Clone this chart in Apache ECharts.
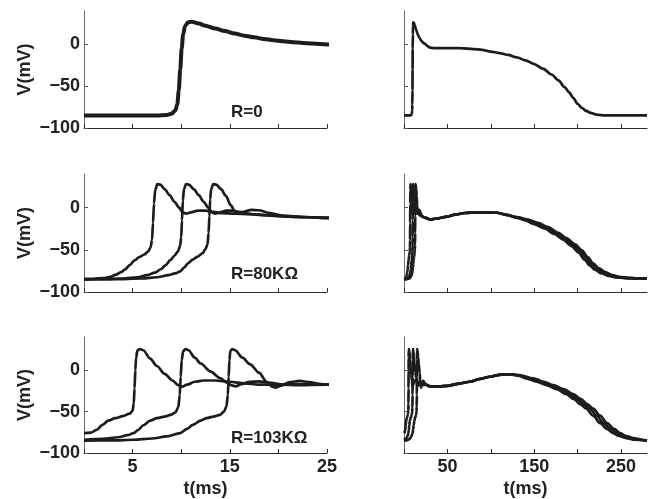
<!DOCTYPE html>
<html>
<head>
<meta charset="utf-8">
<script src="https://cdn.jsdelivr.net/npm/echarts@6/dist/echarts.min.js"></script>
<style>
html,body{margin:0;padding:0;background:#fff}
#c{width:659px;height:499px}
</style>
</head>
<body>
<div id="c"></div>
<script>
// Membrane potential traces [t (ms), V (mV)], one array per trace.
// Each trace covers the whole action potential (0-280 ms); the left
// column shows the first 25 ms, the right column the full duration.

// R = 0
const r0 = [
  [0,-85],[7.5,-85],[8.5,-84.5],[9.0,-83],[9.4,-79],[9.6,-72],[9.75,-55],[9.9,-30],[10.05,-5],
  [10.2,12],[10.4,22],[10.7,26.5],[11.1,27],[11.8,25],[12.5,22.5],[13.5,19],[14.5,16],[15.5,13],
  [16.5,10.5],[17.5,8.5],[18.5,6.6],[19.5,5],[20.5,3.8],[21.5,2.7],[22.5,1.8],[23.5,1],[25,0],
  [27,-2],[30,-3.8],[35,-4.4],[50,-4.4],[65,-4.5],[80,-5.5],[90,-6.5],[100,-8.5],[110,-10.3],
  [120,-12.5],[130,-15.5],[140,-19],[150,-23.5],[160,-29],[170,-36],[178,-43],[185,-51],[190,-57],
  [195,-64],[200,-71],[205,-76],[210,-79.5],[215,-82],[222,-84],[232,-85],[280,-85]
];

// R = 80 kOhm, three stimulus timings
const r80a = [
  [0,-84.5],[1,-84.3],[2,-83.5],[2.7,-82],[3.3,-79.5],[3.8,-76.5],[4.2,-73.5],[4.7,-68],[5.2,-62.5],
  [5.7,-58.5],[6.2,-55.5],[6.6,-52],[6.85,-47],[7.0,-38],[7.1,-18],[7.2,5],[7.32,21],[7.55,28],
  [7.85,27.5],[8.3,22],[8.8,15],[9.3,7],[9.8,0],[10.15,-5.5],[10.5,-7],[11,-5.5],[11.7,-3.5],
  [12.5,-3.5],[13.3,-5],[14.2,-6.5],[15.5,-7],[17,-7.5],[19,-9],[21,-10.5],[23,-11.3],[25,-12],
  [30,-14],[38,-12.8],[50,-10.5],[60,-8],[70,-6.3],[84,-5.5],[95,-5.5],[107,-6],[118,-8.5],
  [130,-12],[140,-15],[150,-19.5],[162,-24.5],[173,-31],[183,-37.5],[193,-45.5],[201,-53],
  [208,-61.5],[214,-68.5],[220,-73.5],[228,-78],[236,-81],[244,-82.6],[254,-83.5],[266,-84],[280,-84]
];
const r80b = [
  [0,-85],[2,-84.8],[4,-84],[5.5,-82.5],[6.5,-80],[7.3,-77],[7.9,-73],[8.4,-68],[8.9,-62],
  [9.3,-57],[9.65,-52],[9.9,-45],[10.0,-35],[10.08,-15],[10.17,8],[10.28,22],[10.5,28],[10.8,27.5],
  [11.3,22],[11.8,15],[12.3,7],[12.8,0],[13.15,-5.5],[13.5,-7],[14,-5.5],[14.6,-3.5],[15.3,-3.5],
  [16,-5],[16.8,-7],[18,-8.5],[20,-10],[22.5,-11],[25,-12],
  [30,-14],[38,-12.8],[50,-10.5],[60,-8],[70,-6.3],[84,-5.5],[95,-5.5],[107,-6],[118,-8.5],
  [130,-11.5],[141,-14.5],[152,-18.6],[164,-23.5],[175,-30],[185,-36.5],[195,-44],[203,-51.5],
  [210,-60],[216,-67],[222,-72.5],[230,-77],[238,-80.3],[246,-82.2],[256,-83.3],[268,-84],[280,-84]
];
const r80c = [
  [0,-85],[3,-84.8],[6,-84],[7.5,-82.5],[8.7,-80],[9.5,-77.5],[9.9,-75.5],[10.3,-71],[10.7,-66],
  [11.2,-61.5],[11.7,-58],[12.2,-54],[12.45,-50],[12.7,-44],[12.82,-30],[12.9,-10],[12.98,10],
  [13.08,22],[13.3,28],[13.6,27.5],[14.1,22],[14.6,14],[15.1,3],[15.5,-4],[15.9,-6.5],[16.4,-5],
  [17.2,-2.5],[18,-3],[19,-6],[20.5,-9.5],[22.5,-11],[25,-12],
  [30,-14],[38,-12.8],[50,-10.5],[60,-8],[70,-6.3],[84,-5.5],[95,-5.5],[107,-6],[118,-8.5],
  [130,-11],[143,-14.2],[154,-18],[166,-23],[177,-29.5],[187,-36],[197,-43.5],[205,-50.5],
  [212,-59],[218,-66],[224,-71.5],[232,-76.5],[240,-80],[248,-82],[258,-83.2],[270,-84],[280,-84]
];

// R = 103 kOhm, three stimulus timings
const r103a = [
  [0,-76],[0.7,-75.5],[1.3,-72],[1.9,-66],[2.5,-61],[3.2,-58],[4,-55.5],[4.7,-52.5],[5.0,-49],
  [5.12,-40],[5.2,-22],[5.28,0],[5.36,15],[5.5,24],[5.75,25.5],[6.1,24],[6.8,14],[7.5,5],
  [8.3,-4.5],[9.1,-12.5],[9.7,-18],[10.1,-20],[10.6,-17.5],[11.4,-14],[12.3,-12.5],[13.5,-12.5],
  [15,-14],[16.5,-16],[18,-17.5],[20,-17.5],[22,-16.8],[25,-17.5],
  [30,-19.5],[40,-19.5],[50,-19],[62,-16.5],[76,-14],[88,-10.5],[99,-8],[108,-6],[116,-5],
  [125,-5.3],[133,-7],[141,-10],[153,-14],[164,-18],[176,-23],[187,-29],[196,-35],[203,-41],
  [210,-46.5],[218,-55],[226,-64],[234,-71],[241,-76],[248,-79.5],[256,-82],[266,-84],[280,-85]
];
const r103b = [
  [0,-84],[2,-83],[3.5,-81],[4.5,-78.5],[5.1,-76],[5.6,-72],[6.1,-66.5],[6.8,-61],[7.5,-58],
  [8.3,-56],[8.9,-54],[9.4,-51],[9.7,-45],[9.85,-30],[9.95,-8],[10.05,12],[10.2,23],[10.45,25.5],
  [10.75,24],[11.4,15],[12,8],[13,-1.5],[14,-9.5],[14.7,-15],[15.2,-18.5],[15.6,-19.5],[16.2,-17],
  [17,-14],[18,-13.5],[19,-15],[20.5,-17.5],[22,-18],[25,-17.5],
  [30,-19.5],[40,-19.5],[50,-19],[62,-16.5],[76,-14],[88,-10.5],[99,-8],[108,-6],[116,-5],
  [125,-5.3],[133,-6.5],[145,-10],[157,-14],[168,-18],[180,-23],[191,-29],[200,-35],[207,-41],
  [214,-46.5],[222,-55],[230,-64],[238,-71],[245,-76],[252,-79.5],[260,-82],[270,-84],[280,-85]
];
const r103c = [
  [0,-85],[3,-84.8],[5.1,-84],[7,-82.5],[8.5,-80],[9.9,-76],[10.6,-71],[11.2,-66],[12,-61],
  [12.6,-58],[13.3,-56],[14,-54],[14.4,-50],[14.65,-44],[14.8,-30],[14.88,-8],[14.96,12],
  [15.05,23],[15.25,25.5],[15.55,24],[16.3,15],[17.1,7],[18,-3],[18.8,-14],[19.3,-19.5],
  [19.7,-21],[20.2,-19],[21.2,-14.5],[22.2,-13],[23.2,-14.5],[24.2,-16.5],[25,-17.5],
  [30,-19.5],[40,-19.5],[50,-19],[62,-16.5],[76,-14],[88,-10.5],[99,-8],[108,-6],[116,-5],
  [125,-5.3],[133,-6],[149,-10],[161,-14],[172,-18],[184,-23],[195,-29],[204,-35],[211,-41],
  [218,-46.5],[226,-55],[234,-64],[242,-71],[249,-76],[256,-79.5],[264,-82],[274,-84],[280,-85]
];

// Axis ticks and labels
const shortTicks = [0, 5, 10, 15, 20, 25];
const shortLabels = [5, 15, 25];
const longTicks = [0, 50, 100, 150, 200, 250];
const longLabels = [50, 150, 250];
const vTicks = [-100, -50, 0];
const rowLabels = ['R=0', 'R=80K\u03A9', 'R=103K\u03A9'];

const FONT = '"Liberation Sans", Arial, Helvetica, sans-serif';
const INK = '#1c1c1c';
const TEXT = { fontFamily: FONT, fontSize: 18, fontWeight: 'bold', color: '#222' };

const rowTops = [11, 174, 337];
const rowHeights = [117, 118, 118];
const colLefts = [84, 404];
const rows = [[r0], [r80a, r80b, r80c], [r103a, r103b, r103c]];

const grid = [], xAxis = [], yAxis = [], series = [];
rows.forEach((traces, r) => {
  colLefts.forEach((left, c) => {
    const gi = grid.length;
    const bottomRow = r === 2;
    grid.push({ left: left, top: rowTops[r], width: 243, height: rowHeights[r] });
    xAxis.push({
      gridIndex: gi, type: 'value', min: 0, max: c === 0 ? 25 : 280,
      axisLine: { show: true, onZero: false, lineStyle: { color: '#2a2a2a', width: 1 } },
      axisTick: { show: true, inside: true, length: 4, customValues: c === 0 ? shortTicks : longTicks,
                  lineStyle: { color: '#2a2a2a', width: 1 } },
      axisLabel: Object.assign({ show: bottomRow, customValues: c === 0 ? shortLabels : longLabels, margin: 5 }, TEXT),
      splitLine: { show: false },
      name: bottomRow ? 't(ms)' : '', nameLocation: 'middle', nameGap: 27,
      nameTextStyle: TEXT
    });
    yAxis.push({
      gridIndex: gi, type: 'value', min: -100, max: 40,
      axisLine: { show: true, onZero: false, lineStyle: { color: '#6e6e6e', width: 1 } },
      axisTick: { show: true, inside: true, length: 4, customValues: vTicks,
                  lineStyle: { color: '#555', width: 1 } },
      axisLabel: Object.assign({ show: c === 0, customValues: vTicks, margin: 4,
                   formatter: v => String(v).replace('-', '\u2212') }, TEXT),
      splitLine: { show: false },
      name: c === 0 ? 'V(mV)' : '', nameLocation: 'middle', nameGap: 50,
      nameTextStyle: TEXT
    });
    traces.forEach(d => {
      series.push({
        type: 'line', xAxisIndex: gi, yAxisIndex: gi, data: d,
        showSymbol: false, smooth: 0.3, smoothMonotone: 'x', clip: true,
        lineStyle: { color: INK, width: (r === 0 && c === 0) ? 4 : 2.7 },
        silent: true
      });
    });
  });
});

const graphic = rowLabels.map((t, r) => ({
  type: 'text', left: 231, top: [104, 266, 430][r],
  style: { text: t, font: 'bold 17px ' + FONT, fill: '#222' }
}));

const chart = echarts.init(document.getElementById('c'), null, { renderer: 'canvas' });
chart.setOption({
  animation: false,
  backgroundColor: '#ffffff',
  grid, xAxis, yAxis, series, graphic
});
</script>
</body>
</html>
